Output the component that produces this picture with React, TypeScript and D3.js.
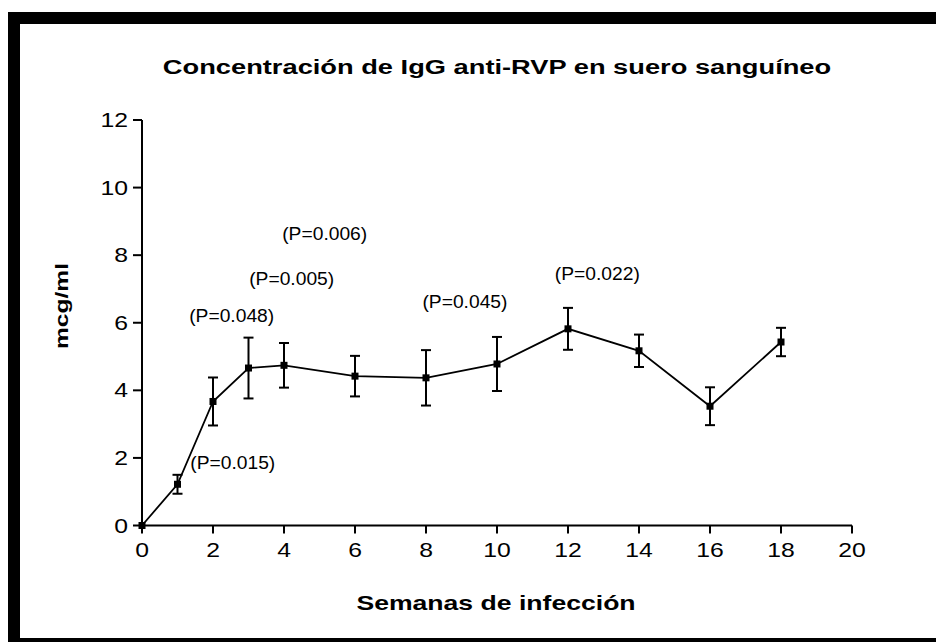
import React, { useEffect } from "react";
import * as d3 from "d3";

const weeks = [0, 1, 2, 3, 4, 6, 8, 10, 12, 14, 16, 18];
const means = [0, 1.22, 3.67, 4.66, 4.74, 4.42, 4.37, 4.78, 5.82, 5.17, 3.53, 5.43];
const errs = [0, 0.28, 0.71, 0.9, 0.66, 0.6, 0.82, 0.8, 0.62, 0.48, 0.56, 0.42];
const xTicks = [0, 2, 4, 6, 8, 10, 12, 14, 16, 18, 20];
const yTicks = [0, 2, 4, 6, 8, 10, 12];
const pLabels = ["(P=0.015)", "(P=0.048)", "(P=0.005)", "(P=0.006)", "(P=0.045)", "(P=0.022)"];
const pX = [1.36, 1.33, 3.02, 3.95, 7.9, 11.63];
const pY = [1.68, 6.05, 7.12, 8.45, 6.44, 7.28];

const title = "Concentración de IgG anti-RVP en suero sanguíneo";
const xTitle = "Semanas de infección";
const yTitle = "mcg/ml";

const FONT = "Arial, 'Liberation Sans', Helvetica, sans-serif";

export default function App() {
  useEffect(() => {
    document.body.style.margin = "0";
  }, []);
  const x = d3.scaleLinear().domain([0, 20]).range([142, 852]);
  const y = d3.scaleLinear().domain([0, 12]).range([525.5, 120]);
  const line = d3
    .line<number>()
    .x((_, i) => x(weeks[i]))
    .y((d) => y(d));

  const stretched = (tx: number, ty: number, text: string, size: number, sx: number, anchor: string, bold = false) => (
    <text
      transform={`translate(${tx},${ty}) scale(${sx},1)`}
      textAnchor={anchor}
      fontFamily={FONT}
      fontSize={size}
      fontWeight={bold ? "bold" : "normal"}
      fill="#000"
    >
      {text}
    </text>
  );

  return (
    <svg width={936} height={642} style={{ position: "absolute", left: 0, top: 0, display: "block" }}>
      <rect x={0} y={0} width={936} height={642} fill="#fff" />
      <rect x={8} y={12} width={940} height={640} fill="#000" />
      <rect x={20} y={24} width={930} height={614} fill="#fff" />

      {stretched(497, 74, title, 20.5, 1.33, "middle", true)}

      {/* axes */}
      <line x1={x(0)} x2={x(20)} y1={y(0)} y2={y(0)} stroke="#000" strokeWidth={2} />
      <line x1={x(0)} x2={x(0)} y1={y(0)} y2={y(12)} stroke="#000" strokeWidth={2} />
      {xTicks.map((t) => (
        <g key={"xt" + t}>
          <line x1={x(t)} x2={x(t)} y1={y(0)} y2={y(0) + 8} stroke="#000" strokeWidth={2} />
          {stretched(x(t), 557, String(t), 19.5, 1.27, "middle")}
        </g>
      ))}
      {yTicks.map((t) => (
        <g key={"yt" + t}>
          <line x1={x(0) - 9} x2={x(0)} y1={y(t)} y2={y(t)} stroke="#000" strokeWidth={2} />
          {stretched(128, y(t) + 7, String(t), 19.5, 1.27, "end")}
        </g>
      ))}

      {stretched(496, 610, xTitle, 20, 1.33, "middle", true)}
      <text
        transform={`translate(68,306) rotate(-90) scale(1.33,1)`}
        textAnchor="middle"
        fontFamily={FONT}
        fontSize={18.5}
        fontWeight="bold"
      >
        {yTitle}
      </text>

      {/* line */}
      <path d={line(means) || ""} fill="none" stroke="#000" strokeWidth={1.8} />

      {/* error bars */}
      {weeks.map((w, i) =>
        errs[i] > 0 ? (
          <g key={"e" + i} stroke="#000" strokeWidth={2}>
            <line x1={x(w)} x2={x(w)} y1={y(means[i] + errs[i])} y2={y(means[i] - errs[i])} />
            <line x1={x(w) - 5} x2={x(w) + 5} y1={y(means[i] + errs[i])} y2={y(means[i] + errs[i])} />
            <line x1={x(w) - 5} x2={x(w) + 5} y1={y(means[i] - errs[i])} y2={y(means[i] - errs[i])} />
          </g>
        ) : null
      )}
      {/* markers */}
      {weeks.map((w, i) => (
        <rect key={"m" + i} x={x(w) - 3.5} y={y(means[i]) - 3.5} width={7} height={7} fill="#000" />
      ))}

      {/* P labels */}
      {pLabels.map((p, i) => (
        <text
          key={"p" + i}
          x={x(pX[i])}
          y={y(pY[i]) + 0.5}
          textLength={85}
          lengthAdjust="spacingAndGlyphs"
          fontFamily={FONT}
          fontSize={17.5}
          fill="#000"
        >
          {p}
        </text>
      ))}
    </svg>
  );
}
